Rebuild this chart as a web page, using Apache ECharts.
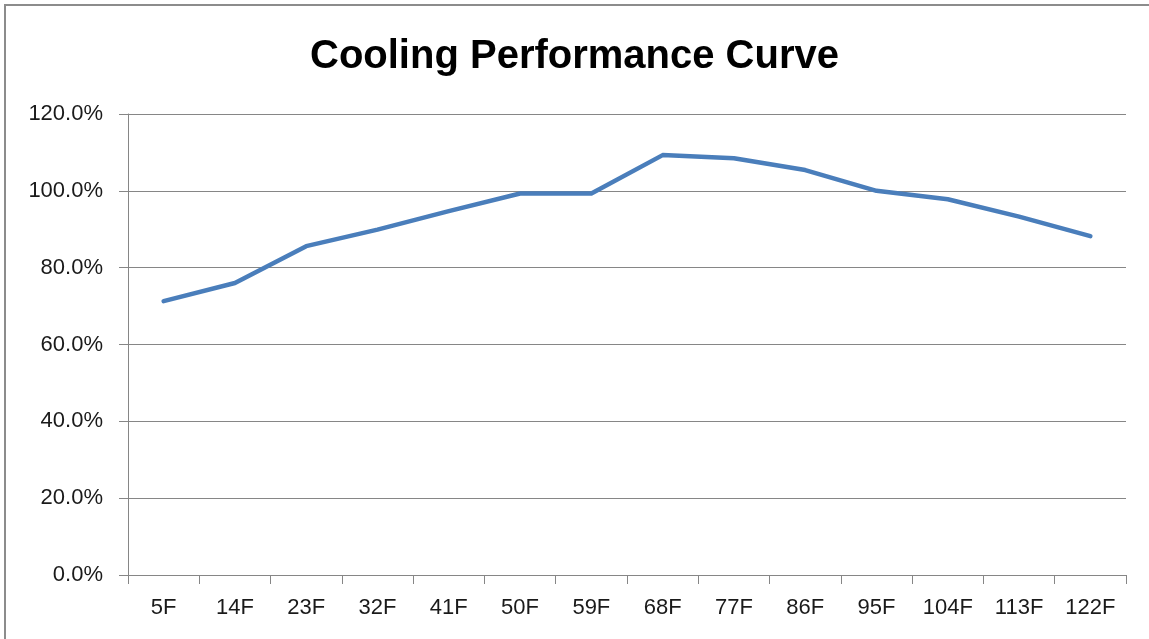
<!DOCTYPE html>
<html>
<head>
<meta charset="utf-8">
<script src="https://cdn.jsdelivr.net/npm/echarts@6/dist/echarts.min.js"></script>
<style>
html,body{margin:0;padding:0;background:#fff;}
#c{width:1149px;height:639px;}
</style>
</head>
<body>
<div id="c"></div>
<script>
var titleText = 'Cooling Performance Curve';
var categories = ['5F','14F','23F','32F','41F','50F','59F','68F','77F','86F','95F','104F','113F','122F'];
var performance = [71.3, 76.0, 85.6, 89.9, 94.7, 99.3, 99.3, 109.3, 108.5, 105.4, 100.0, 97.8, 93.3, 88.2];
var yTicks = [0, 20, 40, 60, 80, 100, 120];

var chart = echarts.init(document.getElementById('c'), null, {renderer:'canvas'});
var font = 'Liberation Sans';
chart.setOption({
  backgroundColor: '#fff',
  animation: false,
  title: {
    text: titleText,
    left: 'center',
    top: 32,
    textStyle: {fontFamily: font, fontWeight: 'bold', fontSize: 40, color: '#000'}
  },
  graphic: [{
    type: 'polyline',
    shape: {points: [[5, 700], [5, 5], [1160, 5]]},
    style: {stroke: '#8c8c8c', lineWidth: 2, fill: null},
    silent: true
  }],
  grid: {left: 128, right: 23, top: 114, bottom: 64, containLabel: false},
  xAxis: {
    type: 'category',
    data: categories,
    boundaryGap: true,
    axisLine: {lineStyle: {color: '#868686', width: 1}},
    axisTick: {show: true, alignWithLabel: false, length: 9, inside: false, lineStyle: {color: '#868686'}},
    axisLabel: {fontFamily: font, fontSize: 22, color: '#1a1a1a', margin: 22, interval: 0}
  },
  yAxis: {
    type: 'value',
    min: yTicks[0],
    max: yTicks[yTicks.length - 1],
    interval: 20,
    axisLine: {show: true, lineStyle: {color: '#868686', width: 1}},
    axisTick: {show: true, length: 9, lineStyle: {color: '#868686'}},
    splitLine: {lineStyle: {color: '#868686', width: 1}},
    axisLabel: {fontFamily: font, fontSize: 22, color: '#1a1a1a', margin: 25,
      formatter: function (v) { return v.toFixed(1) + '%'; }}
  },
  series: [{
    type: 'line',
    data: performance,
    symbol: 'none',
    smooth: false,
    lineStyle: {color: '#4A7EBB', width: 4.5, join: 'round', cap: 'round'}
  }]
});
</script>
</body>
</html>
